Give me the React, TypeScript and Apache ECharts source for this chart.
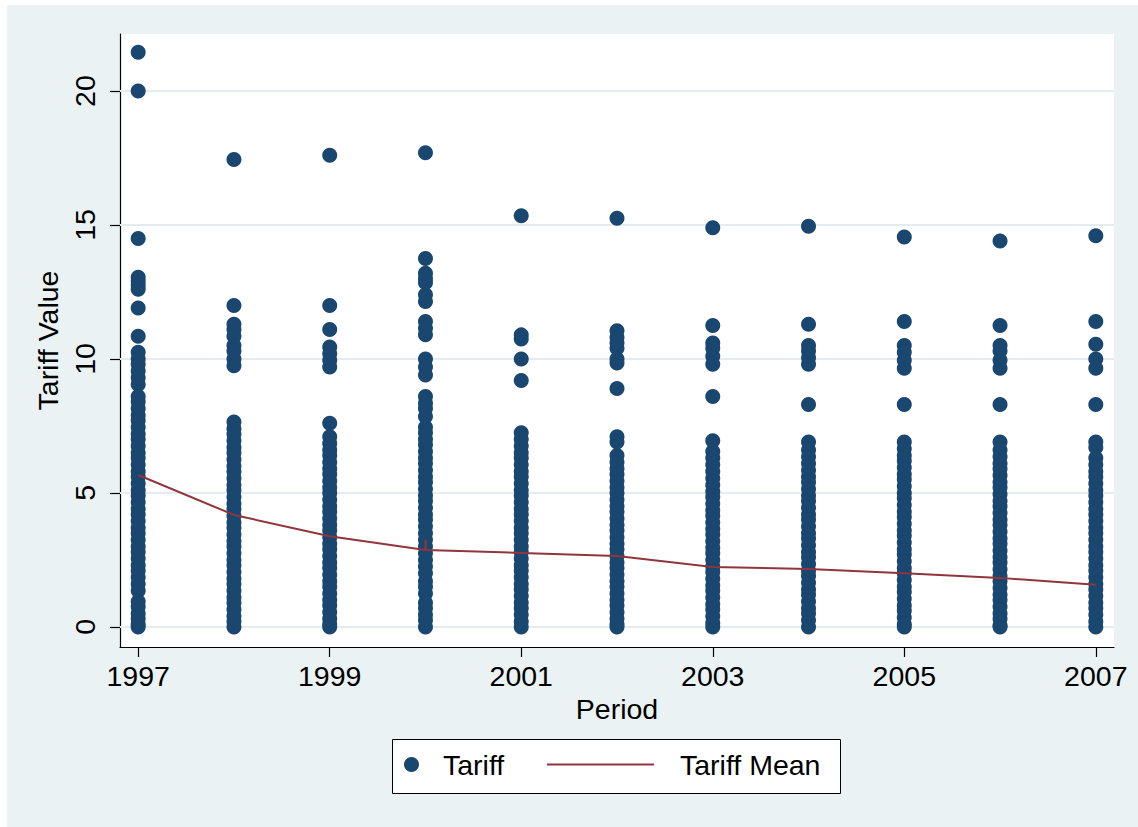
import React, { useEffect, useRef } from "react";
import * as echarts from "echarts";

// ---- Data ----
const years = [1997, 1998, 1999, 2000, 2001, 2002, 2003, 2004, 2005, 2006, 2007];

const t1997 = [21.45, 20.0, 14.5, 13.05, 12.9, 12.75, 12.6, 11.9, 10.85, 10.25, 10.0, 9.8, 9.55, 9.3, 9.05, 8.6, 8.4, 8.15, 7.9, 7.7, 7.45, 7.2, 7.0, 6.75, 6.5, 6.3, 6.05, 5.8, 5.6, 5.35, 5.1, 4.9, 4.65, 4.4, 4.2, 3.95, 3.7, 3.5, 3.25, 3.0, 2.8, 2.55, 2.3, 2.1, 1.85, 1.6, 1.35, 0.95, 0.75, 0.5, 0.3, 0.1, 0];
const t1998 = [17.45, 12.0, 11.3, 11.1, 10.85, 10.5, 10.3, 10.0, 9.75, 7.65, 7.4, 7.2, 6.95, 6.7, 6.5, 6.25, 6.0, 5.8, 5.55, 5.3, 5.1, 4.85, 4.6, 4.4, 4.15, 3.9, 3.7, 3.45, 3.2, 3.0, 2.75, 2.5, 2.3, 2.05, 1.8, 1.6, 1.35, 1.1, 0.9, 0.65, 0.4, 0.2, 0];
const t1999 = [17.6, 12.0, 11.1, 10.45, 10.2, 9.95, 9.7, 7.6, 7.1, 6.85, 6.6, 6.4, 6.15, 5.9, 5.7, 5.45, 5.2, 5.0, 4.75, 4.5, 4.3, 4.05, 3.8, 3.6, 3.35, 3.1, 2.9, 2.65, 2.4, 2.2, 1.95, 1.7, 1.5, 1.25, 1.0, 0.8, 0.55, 0.3, 0.1, 0];
const t2000 = [17.7, 13.75, 13.2, 13.0, 12.85, 12.4, 12.15, 11.4, 11.15, 10.9, 10.0, 9.7, 9.4, 8.6, 8.35, 8.15, 7.85, 7.45, 7.25, 7.0, 6.8, 6.55, 6.3, 6.1, 5.85, 5.6, 5.4, 5.15, 4.9, 4.7, 4.45, 4.2, 4.0, 3.75, 3.5, 3.25, 3.0, 2.75, 2.5, 2.25, 2.0, 1.7, 1.5, 1.25, 0.9, 0.7, 0.45, 0.25, 0];
const t2001 = [15.35, 10.9, 10.75, 10.0, 9.2, 7.25, 7.0, 6.75, 6.5, 6.3, 6.05, 5.8, 5.6, 5.35, 5.1, 4.9, 4.65, 4.4, 4.2, 3.95, 3.7, 3.5, 3.25, 3.0, 2.8, 2.55, 2.3, 2.1, 1.85, 1.6, 1.4, 1.15, 0.9, 0.7, 0.45, 0.2, 0];
const t2002 = [15.25, 11.05, 10.8, 10.6, 10.4, 10.0, 9.85, 8.9, 7.1, 6.9, 6.4, 6.15, 5.9, 5.7, 5.45, 5.2, 5.0, 4.75, 4.5, 4.3, 4.05, 3.8, 3.6, 3.35, 3.1, 2.9, 2.65, 2.4, 2.2, 1.95, 1.7, 1.5, 1.25, 1.0, 0.8, 0.55, 0.3, 0.1, 0];
const t2003 = [14.9, 11.25, 10.6, 10.4, 10.1, 9.8, 8.6, 6.95, 6.55, 6.3, 6.05, 5.8, 5.55, 5.3, 5.05, 4.85, 4.6, 4.35, 4.15, 3.9, 3.65, 3.45, 3.2, 2.95, 2.75, 2.5, 2.25, 2.05, 1.8, 1.55, 1.35, 1.1, 0.85, 0.65, 0.4, 0.15, 0];
const t2004 = [14.95, 11.3, 10.5, 10.3, 10.05, 9.8, 8.3, 6.9, 6.6, 6.35, 6.1, 5.85, 5.6, 5.4, 5.15, 4.9, 4.7, 4.45, 4.2, 4.0, 3.75, 3.5, 3.3, 3.05, 2.8, 2.6, 2.35, 2.1, 1.9, 1.65, 1.4, 1.2, 0.95, 0.7, 0.5, 0.25, 0];
const t2005 = [14.55, 11.4, 10.5, 10.25, 9.95, 9.65, 8.3, 6.9, 6.65, 6.4, 6.2, 5.95, 5.7, 5.5, 5.25, 5.0, 4.8, 4.55, 4.3, 4.1, 3.85, 3.6, 3.4, 3.15, 2.9, 2.7, 2.45, 2.2, 2.0, 1.75, 1.5, 1.3, 1.05, 0.8, 0.6, 0.35, 0.1, 0];
const t2006 = [14.4, 11.25, 10.5, 10.3, 9.95, 9.65, 8.3, 6.9, 6.6, 6.35, 6.1, 5.9, 5.65, 5.4, 5.2, 4.95, 4.7, 4.5, 4.25, 4.0, 3.8, 3.55, 3.3, 3.1, 2.85, 2.6, 2.4, 2.15, 1.9, 1.7, 1.45, 1.2, 1.0, 0.75, 0.5, 0.3, 0.05, 0];
const t2007 = [14.6, 11.4, 10.55, 10.0, 9.65, 8.3, 6.9, 6.7, 6.3, 6.05, 5.8, 5.6, 5.35, 5.1, 4.9, 4.65, 4.4, 4.2, 3.95, 3.7, 3.5, 3.25, 3.0, 2.8, 2.55, 2.3, 2.1, 1.85, 1.6, 1.4, 1.15, 0.9, 0.7, 0.45, 0.2, 0];

const tariffs = [t1997, t1998, t1999, t2000, t2001, t2002, t2003, t2004, t2005, t2006, t2007];

const meanYears = [1997, 1998, 1999, 2000, 2000, 2000, 2001, 2002, 2003, 2004, 2005, 2006, 2007];
const meanValues = [5.67, 4.18, 3.38, 2.87, 3.25, 2.87, 2.76, 2.65, 2.24, 2.16, 2.0, 1.83, 1.57];

const xTicks = [1997, 1999, 2001, 2003, 2005, 2007];
const yTicks = [0, 5, 10, 15, 20];

const seriesNames = ["Tariff", "Tariff Mean"];
const xTitle = "Period";
const yTitle = "Tariff Value";

const FONT = "'Liberation Sans', Arial, Helvetica, sans-serif";
const FS = 28.5;
const NAVY = "#1a476f";
const MAROON = "#90353b";
const BG = "#eaf2f3";

export default function App() {
  const ref = useRef<HTMLDivElement>(null);

  useEffect(() => {
    if (!ref.current) return;
    const chart = echarts.init(ref.current, undefined, { renderer: "svg" });

    const scatterData: number[][] = [];
    years.forEach((yr, i) => {
      tariffs[i].forEach((v) => scatterData.push([yr, v]));
    });
    const meanData = meanYears.map((yr, i) => [yr, meanValues[i]]);

    const option: any = {
      animation: false,
      backgroundColor: BG,
      textStyle: { fontFamily: FONT },
      grid: {
        left: 120,
        right: 24,
        top: 34,
        bottom: 180,
        show: true,
        backgroundColor: "#ffffff",
        borderWidth: 0,
      },
      xAxis: {
        type: "value",
        min: 1996.81,
        max: 2007.19,
        name: xTitle,
        nameLocation: "middle",
        nameGap: 42,
        nameTextStyle: { fontSize: FS, color: "#000", fontFamily: FONT },
        axisLine: { show: true, onZero: false, lineStyle: { color: "#000", width: 1.2 } },
        axisTick: { show: true, customValues: xTicks, length: 10, lineStyle: { color: "#000", width: 1.2 } },
        axisLabel: {
          customValues: xTicks,
          formatter: (v: number) => String(v),
          fontSize: FS,
          color: "#000",
          fontFamily: FONT,
          margin: 14,
        },
        splitLine: { show: false },
      },
      yAxis: {
        type: "value",
        min: -0.75,
        max: 22.13,
        name: yTitle,
        nameLocation: "middle",
        nameGap: 45,
        nameTextStyle: { fontSize: FS, color: "#000", fontFamily: FONT },
        axisLine: { show: true, onZero: false, lineStyle: { color: "#000", width: 1.2 } },
        axisTick: { show: true, customValues: yTicks, length: 10, lineStyle: { color: "#000", width: 1.2 } },
        axisLabel: {
          customValues: yTicks,
          rotate: 90,
          fontSize: FS,
          color: "#000",
          fontFamily: FONT,
          margin: 21,
        },
        splitLine: { show: false },
      },
      legend: [
        {
          data: [{ name: seriesNames[0], icon: "circle" }],
          left: 404,
          top: 750,
          padding: 0,
          itemWidth: 15,
          itemHeight: 15,
          selectedMode: false,
          z: 10,
          textStyle: { fontSize: FS, color: "#000", fontFamily: FONT, padding: [0, 0, 0, 19] },
        },
        {
          data: [{ name: seriesNames[1], icon: "rect" }],
          left: 547,
          top: 750,
          padding: 0,
          itemWidth: 107,
          itemHeight: 2,
          selectedMode: false,
          z: 10,
          itemStyle: { color: MAROON },
          textStyle: { fontSize: FS, color: "#000", fontFamily: FONT, padding: [0, 0, 0, 21] },
        },
      ],
      graphic: [
        { type: "rect", shape: { x: 0, y: 0, width: 7, height: 827 }, style: { fill: "#ffffff" }, silent: true },
        { type: "rect", shape: { x: 0, y: 0, width: 1138, height: 5 }, style: { fill: "#ffffff" }, silent: true },
        {
          type: "rect",
          shape: { x: 392.5, y: 739.5, width: 448, height: 54 },
          style: { fill: "#ffffff", stroke: "#000", lineWidth: 1 },
          silent: true,
        },
      ],
      series: [
        {
          name: "grid",
          type: "line",
          data: [],
          z: 1,
          silent: true,
          markLine: {
            z: 1,
            silent: true,
            symbol: "none",
            label: { show: false },
            lineStyle: { color: "#e4ecef", width: 2, type: "solid" },
            data: yTicks.map((v) => ({ yAxis: v })),
          },
        },
        {
          name: seriesNames[0],
          type: "scatter",
          data: scatterData,
          symbol: "circle",
          symbolSize: 15,
          z: 2,
          itemStyle: { color: NAVY, opacity: 1 },
        },
        {
          name: seriesNames[1],
          type: "line",
          data: meanData,
          symbol: "none",
          showSymbol: false,
          z: 3,
          lineStyle: { color: MAROON, width: 2 },
          itemStyle: { color: MAROON },
        },
      ],
    };

    chart.setOption(option);
    return () => chart.dispose();
  }, []);

  return (
    <div
      ref={ref}
      style={{ position: "absolute", left: 0, top: 0, width: 1138, height: 827 }}
    />
  );
}
